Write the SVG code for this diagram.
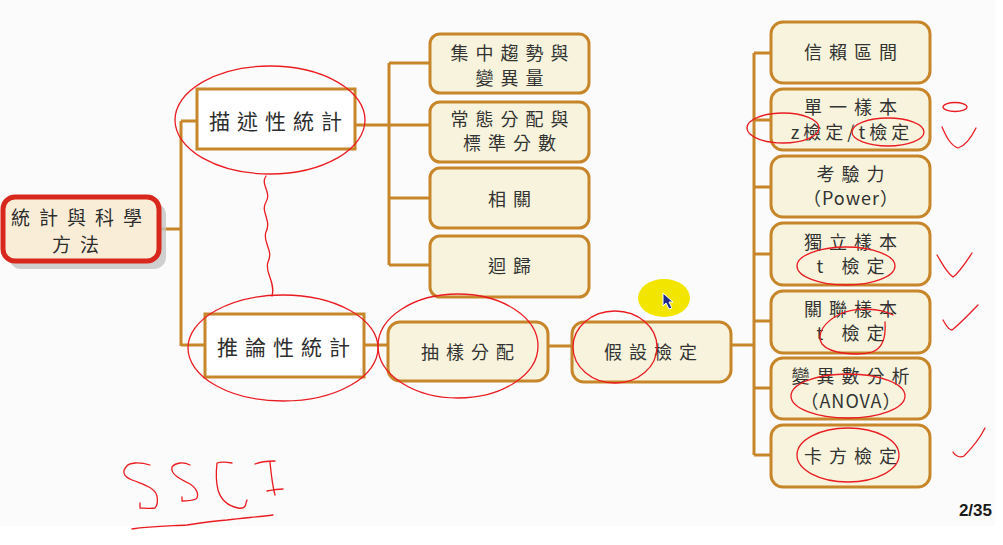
<svg xmlns="http://www.w3.org/2000/svg" width="1003" height="545" viewBox="0 0 1003 545">
<defs>
<style>
.conn{stroke:#c8862a;stroke-width:3;fill:none}
.box{fill:#f7f3dc;stroke:#c8862a;stroke-width:3}
.sq{fill:#ffffff;stroke:#c8862a;stroke-width:3}
.t{font-family:"Noto Sans CJK TC","Noto Sans CJK SC",sans-serif;fill:#333;font-size:18px;letter-spacing:7px;text-anchor:middle}
.tb{font-family:"Noto Sans CJK TC","Noto Sans CJK SC",sans-serif;fill:#2e2e2e;font-size:21px;letter-spacing:7px;text-anchor:middle}
.ink{fill:none;stroke:#ea1c22;stroke-width:1.3;stroke-linecap:round;stroke-linejoin:round}
</style>
</defs>
<rect x="0" y="0" width="1003" height="545" fill="#ffffff"/>
<rect x="0" y="0" width="995" height="526" fill="#fbfbfb"/>

<g id="connectors">
<path class="conn" d="M160,229 H181 M181,121 V346 M181,121 H197 M181,345 H205"/>
<path class="conn" d="M355,125 H389 M389,63 V265 M389,63 H430 M389,125 H430 M389,198 H430 M389,265 H430"/>
<path class="conn" d="M364,345 H388 M548,346 H572 M731,345 H754 M754,53 V455 M754,53 H771 M754,120 H771 M754,187 H771 M754,254 H771 M754,321 H771 M754,388 H771 M754,455 H771"/>
</g>

<g id="root">
<rect x="9" y="203" width="157" height="66" rx="12" fill="#c4c4c4" opacity="0.8"/>
<rect x="3" y="197" width="156" height="64" rx="12" fill="#faedd8" stroke="#d8271c" stroke-width="5"/>
<text class="tb" x="81" y="225" style="font-size:19px;letter-spacing:9px">統計與科學</text>
<text class="tb" x="80" y="252" style="font-size:19px;letter-spacing:9px">方法</text>
</g>

<g id="desc">
<rect class="sq" x="197" y="89" width="158" height="60"/>
<text class="tb" x="279" y="129">描述性統計</text>
</g>
<g id="infer">
<rect class="sq" x="205" y="314" width="159" height="63"/>
<text class="tb" x="287" y="355">推論性統計</text>
</g>

<g id="n1"><rect class="box" x="430" y="34" width="159" height="59" rx="10"/>
<text class="t" x="513" y="60">集中趨勢與</text><text class="t" x="513" y="85">變異量</text></g>
<g id="n2"><rect class="box" x="430" y="102" width="159" height="60" rx="10"/>
<text class="t" x="513" y="126">常態分配與</text><text class="t" x="513" y="150">標準分數</text></g>
<g id="n3"><rect class="box" x="430" y="168" width="159" height="60" rx="10"/>
<text class="t" x="513" y="206">相關</text></g>
<g id="n4"><rect class="box" x="430" y="236" width="159" height="61" rx="10"/>
<text class="t" x="513" y="273">迴歸</text></g>

<g id="sampling"><rect class="box" x="388" y="322" width="160" height="59" rx="12"/>
<text class="t" x="471" y="359">抽樣分配</text></g>
<g id="hypo"><rect class="box" x="572" y="322" width="159" height="60" rx="12"/>
<text class="t" x="654" y="359">假設檢定</text></g>

<g id="r1"><rect class="box" x="771" y="22" width="159" height="61" rx="12"/>
<text class="t" x="854" y="59">信賴區間</text></g>
<g id="r2"><rect class="box" x="771" y="89" width="159" height="61" rx="12"/>
<text class="t" x="854" y="114">單一樣本</text><text class="t" x="852" y="139" style="letter-spacing:4px">z檢定/t檢定</text></g>
<g id="r3"><rect class="box" x="771" y="156" width="159" height="61" rx="12"/>
<text class="t" x="854" y="181">考驗力</text><text class="t" x="851" y="205" style="letter-spacing:1px">（Power）</text></g>
<g id="r4"><rect class="box" x="771" y="223" width="159" height="62" rx="12"/>
<text class="t" x="854" y="249">獨立樣本</text><text class="t" x="854" y="273">t 檢定</text></g>
<g id="r5"><rect class="box" x="771" y="291" width="159" height="62" rx="12"/>
<text class="t" x="854" y="316">關聯樣本</text><text class="t" x="854" y="340">t 檢定</text></g>
<g id="r6"><rect class="box" x="771" y="358" width="159" height="61" rx="12"/>
<text class="t" x="854" y="383">變異數分析</text><text class="t" x="851" y="408" style="letter-spacing:1px">（ANOVA）</text></g>
<g id="r7"><rect class="box" x="771" y="425" width="159" height="62" rx="12"/>
<text class="t" x="854" y="463">卡方檢定</text></g>

<g id="annotations">
<ellipse cx="664" cy="298" rx="26" ry="19" fill="#f2e600"/>
<path d="M663,293 L663,306 L666,303 L669,309 L672,308 L669,302 L673,302 Z" fill="#1c2a8a" stroke="#ffffff" stroke-width="1"/>
<ellipse class="ink" cx="270" cy="120" rx="95" ry="54"/>
<path class="ink" d="M266,176 C260,185 272,192 266,202 C260,212 272,220 266,232 C262,242 274,250 268,262 C264,272 276,282 272,296"/>
<ellipse class="ink" cx="283" cy="348" rx="95" ry="53"/>
<ellipse class="ink" cx="458" cy="346" rx="80" ry="52"/>
<ellipse class="ink" cx="615" cy="347" rx="42" ry="36"/>
<ellipse class="ink" cx="783" cy="128" rx="36" ry="15"/>
<ellipse class="ink" cx="888" cy="132" rx="36" ry="14"/>
<ellipse class="ink" cx="955" cy="107" rx="12" ry="4.5"/>
<path class="ink" d="M942,127 C946,136 950,145 958,148 C965,146 972,136 976,128"/>
<ellipse class="ink" cx="846" cy="266" rx="49" ry="19"/>
<path class="ink" d="M937,255 C942,263 946,272 953,277 C960,272 966,262 972,253"/>
<path class="ink" d="M893,315 C880,308 856,307 840,314 C824,322 816,334 822,344 C830,354 858,356 872,352 C884,348 886,336 885,322"/>
<path class="ink" d="M943,320 C946,325 948,330 952,330 C960,324 970,313 978,305"/>
<ellipse class="ink" cx="848" cy="396" rx="57" ry="22"/>
<ellipse class="ink" cx="848" cy="455" rx="51" ry="27"/>
<path class="ink" d="M953,452 C955,456 960,458 964,456 C972,448 980,438 985,428"/>
<path class="ink" d="M150,465 C140,462 129,462 126,467 C121,473 125,478 135,481 C145,485 155,488 157,496 C158,502 157,506 155,508 C150,509 144,508 140,508 L140,503"/>
<path class="ink" d="M190,465 C184,462 176,462 172,467 C170,474 180,479 190,484 C198,489 199,496 196,499 C191,501 186,501 182,501 L182,497"/>
<path class="ink" d="M232,463 C226,462 220,462 217,463 C216,472 216,482 218,490 C221,500 228,506 238,508 C243,509 246,507 246,503 L247,500"/>
<path class="ink" d="M255,464 C262,461 268,461 275,461 M270,462 C271,472 272,484 275,495 M267,491 C272,490 277,489 283,489"/>
<path class="ink" d="M132,529 C150,526 168,526 187,525 C200,523 214,521 227,520 C242,518 258,517 273,515"/>
</g>

<text x="992" y="516" font-family="Liberation Sans, Arial, sans-serif" font-weight="bold" font-size="17" fill="#1a1a1a" text-anchor="end">2/35</text>
</svg>
